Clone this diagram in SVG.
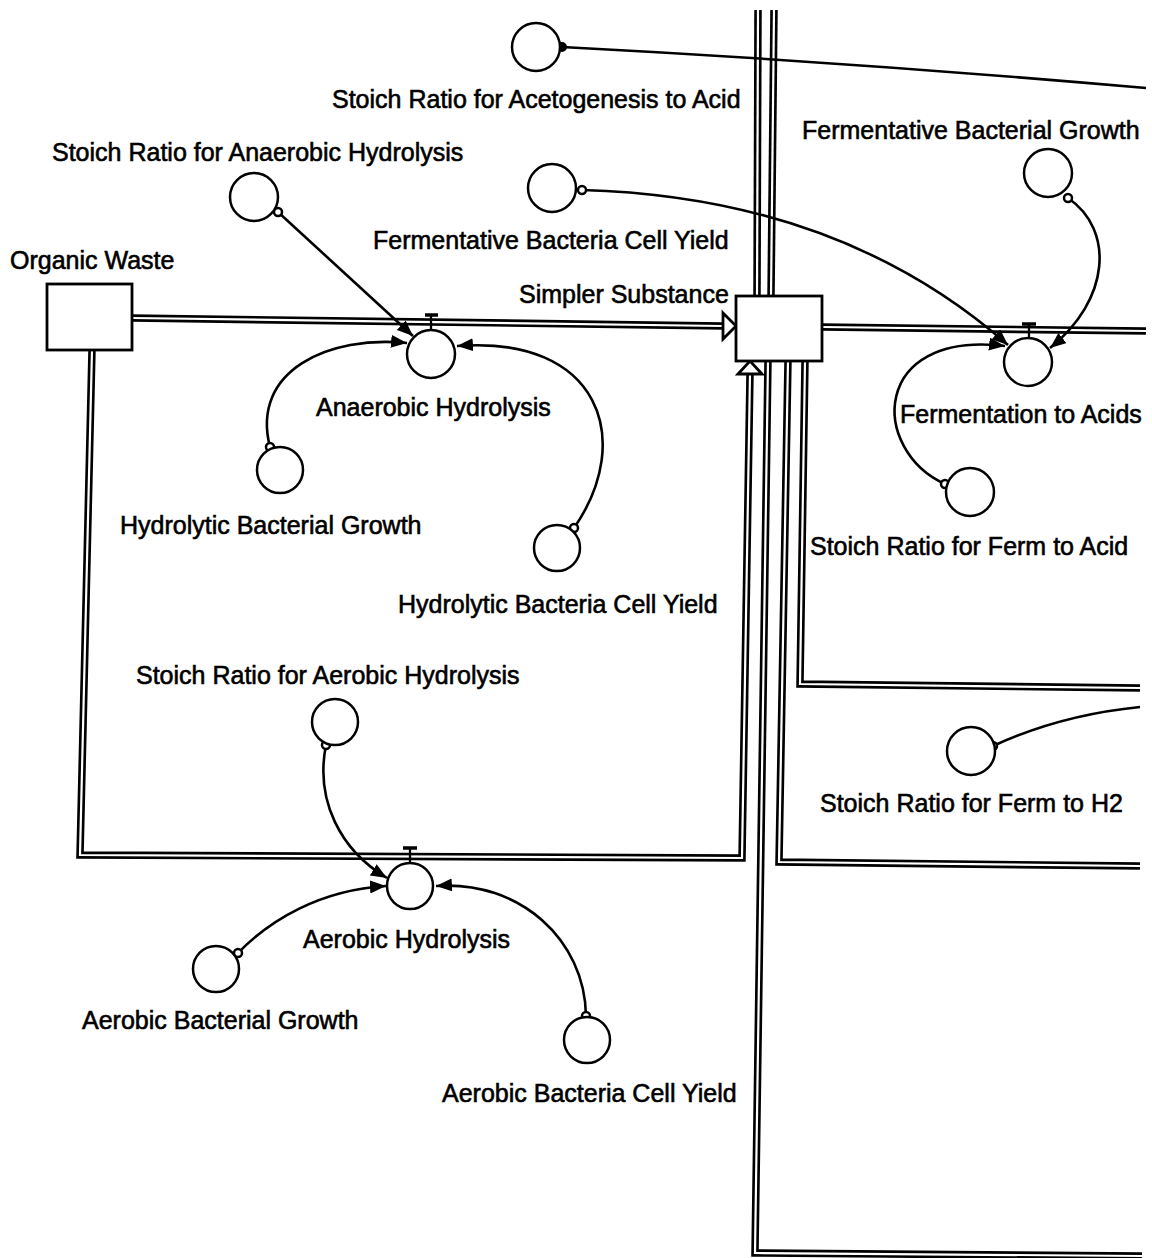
<svg xmlns="http://www.w3.org/2000/svg" width="1152" height="1258" viewBox="0 0 1152 1258">
<defs>
<style>
.po{fill:none;stroke:#000;stroke-width:7.5;stroke-linejoin:miter}
.pi{fill:none;stroke:#fff;stroke-width:2.2;stroke-linejoin:miter}
.aux{fill:#fff;stroke:#000;stroke-width:2.5}
.stock{fill:#fff;stroke:#000;stroke-width:2.8}
.lnk{fill:none;stroke:#000;stroke-width:2.6;marker-end:url(#ah)}
.lnk0{fill:none;stroke:#000;stroke-width:2.6}
.dot{fill:#fff;stroke:#000;stroke-width:2.5}
.harr{fill:#fff;stroke:#000;stroke-width:2.8;stroke-linejoin:miter}
.valve{fill:none;stroke:#000;stroke-width:2.3}
.bar{stroke:#000;stroke-width:3.5}
text{font-family:"Liberation Sans",Arial,sans-serif;font-size:25px;fill:#000;stroke:#000;stroke-width:0.6}
</style>
<marker id="ah" markerWidth="17" markerHeight="13" refX="16" refY="6.5" orient="auto" markerUnits="userSpaceOnUse">
<path d="M0,0 L16,6.5 L0,13 Z" fill="#000"/>
</marker>
</defs>
<rect width="1152" height="1258" fill="#fff"/>

<g id="connectors">
<g id="pipes">
<path class="po" d="M132,318 L723,326"/><path class="pi" d="M132,318 L723,326"/>
<path class="po" d="M92,350 L80,855 L742,858 L750,374"/><path class="pi" d="M92,350 L80,855 L742,858 L750,374"/>
<path class="po" d="M822,327 L1146,331"/><path class="pi" d="M822,327 L1146,331"/>
<path class="po" d="M758,10 L757,296"/><path class="pi" d="M758,10 L757,296"/>
<path class="po" d="M774,10 L771,296"/><path class="pi" d="M774,10 L771,296"/>
<path class="po" d="M768,361 L755,1253 L1142,1256"/><path class="pi" d="M768,361 L755,1253 L1142,1256"/>
<path class="po" d="M788,361 L779,862 L1140,866"/><path class="pi" d="M788,361 L779,862 L1140,866"/>
<path class="po" d="M805,361 L800,684 L1140,688"/><path class="pi" d="M805,361 L800,684 L1140,688"/>
<polygon class="harr" points="723,313 736,326 723,339"/>
<polygon class="harr" points="738,374 750,361 762,374"/>
</g>
<g id="links">
<path class="lnk0" d="M562,47 Q850,62 1146,88"/>
<circle cx="562" cy="47" r="4" fill="#000" stroke="#000" stroke-width="2"/>
<path class="lnk" d="M582,190 C760,195 900,250 1008,345"/>
<circle class="dot" cx="582" cy="190" r="4"/>
<path class="lnk" d="M1068,198 C1115,230 1110,300 1050,348"/>
<circle class="dot" cx="1068" cy="198" r="4"/>
<path class="lnk" d="M945,484 C870,450 870,330 1005,346"/>
<circle class="dot" cx="945" cy="484" r="4"/>
<path class="lnk" d="M278,212 L413,336"/>
<circle class="dot" cx="278" cy="212" r="4"/>
<path class="lnk" d="M270,447 C250,370 330,335 407,343"/>
<circle class="dot" cx="270" cy="447" r="4"/>
<path class="lnk" d="M574,528 C635,440 600,335 457,346"/>
<circle class="dot" cx="574" cy="528" r="4"/>
<path class="lnk" d="M326,745 C315,800 340,850 387,878"/>
<circle class="dot" cx="326" cy="745" r="4"/>
<path class="lnk" d="M238,953 C270,920 320,890 386,886"/>
<circle class="dot" cx="238" cy="953" r="4"/>
<path class="lnk" d="M586,1016 C585,940 520,880 436,886"/>
<circle class="dot" cx="586" cy="1016" r="4"/>
<path class="lnk0" d="M993,746 Q1060,715 1140,707"/>
<circle class="dot" cx="993" cy="746" r="4"/>
</g>
</g>

<g id="organic-waste">
<rect class="stock" x="47" y="284" width="85" height="66"/>
<text x="10" y="269">Organic Waste</text>
</g>
<g id="simpler-substance">
<rect class="stock" x="736" y="296" width="86" height="65"/>
<text x="519" y="303">Simpler Substance</text>
</g>

<g id="anaerobic-hydrolysis">
<line class="valve" x1="431" y1="315" x2="431" y2="330"/>
<line class="bar" x1="425" y1="315" x2="438" y2="315"/>
<circle class="aux" cx="431" cy="354" r="24"/>
<text x="316" y="416">Anaerobic Hydrolysis</text>
</g>
<g id="aerobic-hydrolysis">
<line class="valve" x1="410" y1="848" x2="410" y2="863"/>
<line class="bar" x1="403" y1="848" x2="417" y2="848"/>
<circle class="aux" cx="410" cy="886" r="23"/>
<text x="303" y="948">Aerobic Hydrolysis</text>
</g>
<g id="fermentation-to-acids">
<line class="valve" x1="1029" y1="324" x2="1029" y2="338"/>
<line class="bar" x1="1022" y1="324" x2="1036" y2="324"/>
<circle class="aux" cx="1028" cy="362" r="24"/>
<text x="900" y="423">Fermentation to Acids</text>
</g>

<g id="stoich-acetogenesis">
<circle class="aux" cx="536" cy="47" r="24"/>
<text x="332" y="108">Stoich Ratio for Acetogenesis to Acid</text>
</g>
<g id="fermentative-bacterial-growth">
<circle class="aux" cx="1048" cy="173" r="24"/>
<text x="802" y="139">Fermentative Bacterial Growth</text>
</g>
<g id="stoich-anaerobic">
<circle class="aux" cx="254" cy="197" r="24"/>
<text x="52" y="161">Stoich Ratio for Anaerobic Hydrolysis</text>
</g>
<g id="fermentative-cell-yield">
<circle class="aux" cx="552" cy="188" r="24"/>
<text x="373" y="249">Fermentative Bacteria Cell Yield</text>
</g>
<g id="hydrolytic-bacterial-growth">
<circle class="aux" cx="280" cy="470" r="23"/>
<text x="120" y="534">Hydrolytic Bacterial Growth</text>
</g>
<g id="stoich-ferm-acid">
<circle class="aux" cx="970" cy="492" r="24"/>
<text x="810" y="555">Stoich Ratio for Ferm to Acid</text>
</g>
<g id="hydrolytic-cell-yield">
<circle class="aux" cx="557" cy="548" r="23"/>
<text x="398" y="613">Hydrolytic Bacteria Cell Yield</text>
</g>
<g id="stoich-aerobic">
<circle class="aux" cx="335" cy="722" r="23"/>
<text x="136" y="684">Stoich Ratio for Aerobic Hydrolysis</text>
</g>
<g id="stoich-ferm-h2">
<circle class="aux" cx="971" cy="751" r="24"/>
<text x="820" y="812">Stoich Ratio for Ferm to H2</text>
</g>
<g id="aerobic-bacterial-growth">
<circle class="aux" cx="216" cy="969" r="23"/>
<text x="82" y="1029">Aerobic Bacterial Growth</text>
</g>
<g id="aerobic-cell-yield">
<circle class="aux" cx="587" cy="1040" r="23"/>
<text x="442" y="1102">Aerobic Bacteria Cell Yield</text>
</g>
</svg>
